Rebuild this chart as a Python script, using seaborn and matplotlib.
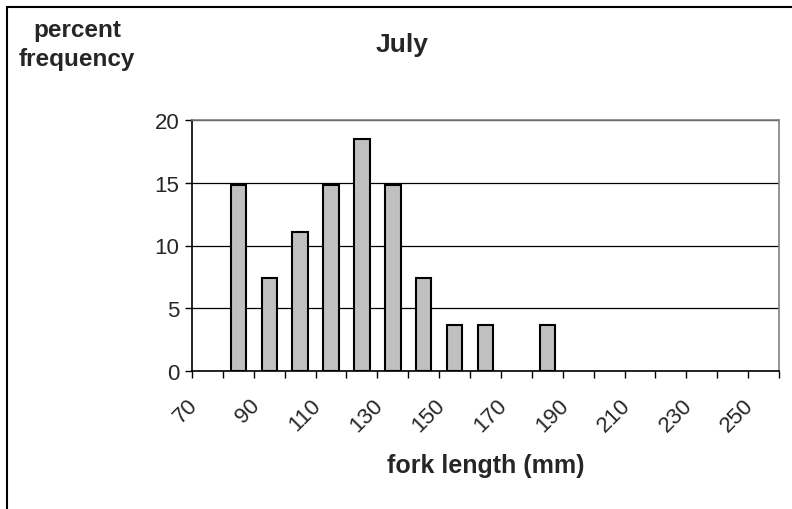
import numpy as np
import pandas as pd
import matplotlib.pyplot as plt
from matplotlib.patches import Rectangle
from matplotlib.transforms import ScaledTranslation
import seaborn as sns

# fork length classes (mm) and percent frequency per class
lengths = [70, 80, 90, 100, 110, 120, 130, 140, 150, 160,
           170, 180, 190, 200, 210, 220, 230, 240, 250]
percent = [0, 14.8, 7.4, 11.1, 14.8, 18.5, 14.8, 7.4, 3.7, 3.7,
           0, 3.7, 0, 0, 0, 0, 0, 0, 0]
tick_labels = [70, 90, 110, 130, 150, 170, 190, 210, 230, 250]

df = pd.DataFrame({'length': [str(v) for v in lengths], 'percent': percent})

sns.set_style('white')
plt.rcParams['font.family'] = ['Liberation Sans', 'DejaVu Sans']

fig = plt.figure(figsize=(7.92, 5.10), dpi=100)
ax = fig.add_axes([192 / 792, 1 - 372 / 510, (779 - 192) / 792, (372 - 121) / 510])

sns.barplot(data=df, x='length', y='percent', order=df['length'],
            color='#C0C0C0', saturation=1, width=0.5,
            edgecolor='black', linewidth=1.5, ax=ax)
# empty classes have no visible bar
for p in ax.patches:
    if p.get_height() == 0:
        p.set_visible(False)

ax.set_xlim(-0.5, len(lengths) - 0.5)
ax.set_ylim(0, 20)
ax.set_yticks([0, 5, 10, 15, 20])
ax.tick_params(axis='y', labelsize=16, left=True, length=5, width=1, color='black', pad=4)

# category axis: ticks on boundaries, labels every other category
ax.set_xticks(np.arange(-0.5, len(lengths), 1), minor=True)
ax.set_xticks([lengths.index(v) for v in tick_labels])
ax.set_xticklabels([str(v) for v in tick_labels], rotation=45, ha='right',
                   va='center', rotation_mode='anchor', fontsize=16)
ax.tick_params(axis='x', which='major', length=0, pad=22)
ax.tick_params(axis='x', which='minor', bottom=True, length=5, width=1, color='black')
shift = ScaledTranslation(-13 / 100, 0, fig.dpi_scale_trans)
for lab in ax.get_xticklabels():
    lab.set_transform(lab.get_transform() + shift)

ax.yaxis.grid(True, color='black', linewidth=0.9)
ax.set_axisbelow(True)
for side in ['top', 'right']:
    ax.spines[side].set_color('#808080')
    ax.spines[side].set_linewidth(1.2)
for side in ['left', 'bottom']:
    ax.spines[side].set_color('black')
    ax.spines[side].set_linewidth(1.2)

ax.set_xlabel('fork length (mm)', fontsize=18, fontweight='bold')
ax.xaxis.set_label_coords(0.5, (372 - 466) / 251)
ax.xaxis.label.set_va('center')
ax.set_ylabel('')

fig.text(402 / 792, 1 - 45 / 510, 'July', fontsize=19, fontweight='bold',
         ha='center', va='center')
fig.text(77 / 792, 1 - 45 / 510, 'percent\nfrequency', fontsize=17.5,
         fontweight='bold', ha='center', va='center', linespacing=1.3)

# outer chart border
fig.patches.append(Rectangle((6.5 / 792, -0.5), 2, 1.5 - 8 / 510, fill=False,
                             edgecolor='black', linewidth=1.5,
                             transform=fig.transFigure, figure=fig))

fig.savefig('out.png', dpi=100)
